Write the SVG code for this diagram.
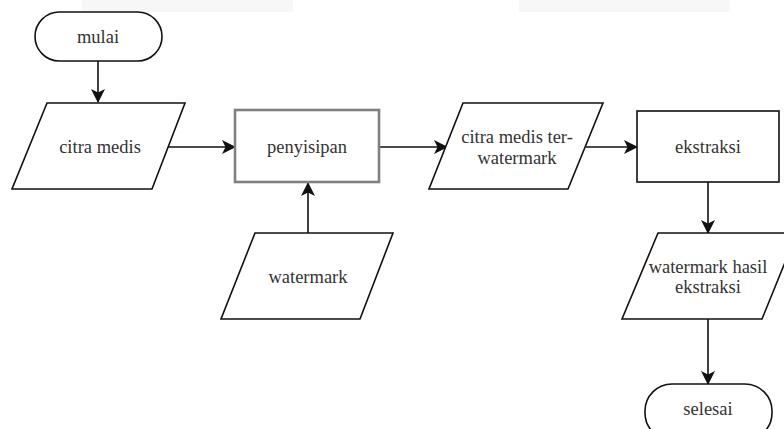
<svg xmlns="http://www.w3.org/2000/svg" width="784" height="429" viewBox="0 0 784 429">
<defs>
<style>
.s{fill:#fff;stroke:#111;stroke-width:1.6}
.g{fill:#fff;stroke:#808080;stroke-width:2.6}
text{font-family:'Liberation Serif','DejaVu Serif','Times New Roman',serif;font-size:18.5px;fill:#333;text-anchor:middle}
.c{fill:none;stroke:#111;stroke-width:1.6}
</style>
<marker id="ah" viewBox="0 0 14 14" refX="13" refY="7" markerWidth="14" markerHeight="14" markerUnits="userSpaceOnUse" orient="auto">
<path d="M0,0 L14,7 L0,14 L3.5,7 Z" fill="#111"/>
</marker>
</defs>
<rect width="784" height="429" fill="#fff"/>
<rect x="82" y="0" width="211" height="12" fill="#f7f7f7"/>
<rect x="519" y="0" width="211" height="12" fill="#f7f7f7"/>
<g id="connectors">
<path class="c" d="M98,61 V102" marker-end="url(#ah)"/>
<path class="c" d="M168,147 H235" marker-end="url(#ah)"/>
<path class="c" d="M379,147 H447" marker-end="url(#ah)"/>
<path class="c" d="M586,147 H637" marker-end="url(#ah)"/>
<path class="c" d="M308,233 V183" marker-end="url(#ah)"/>
<path class="c" d="M708,182 V233" marker-end="url(#ah)"/>
<path class="c" d="M708,319 V384" marker-end="url(#ah)"/>
</g>
<g id="mulai">
<rect class="s" x="35" y="12" width="127" height="49" rx="24.5"/>
<text x="98" y="43" font-family="Liberation Serif, serif">mulai</text>
</g>
<g id="citra-medis">
<polygon class="s" points="47,103 185,103 152,189 12,189"/>
<text x="100" y="153" font-family="Liberation Serif, serif">citra medis</text>
</g>
<g id="penyisipan">
<rect class="g" x="235" y="110" width="144" height="72"/>
<text x="307" y="153" font-family="Liberation Serif, serif">penyisipan</text>
</g>
<g id="watermark">
<polygon class="s" points="255,233 393,233 360,319 221,319"/>
<text x="308" y="283" font-family="Liberation Serif, serif">watermark</text>
</g>
<g id="citra-medis-ter-watermark">
<polygon class="s" points="463,103 603,103 568,189 429,189"/>
<text x="517" y="143" font-family="Liberation Serif, serif">citra medis ter-</text>
<text x="517" y="164" font-family="Liberation Serif, serif">watermark</text>
</g>
<g id="ekstraksi">
<rect class="s" x="637" y="111" width="142" height="71"/>
<text x="708" y="153" font-family="Liberation Serif, serif">ekstraksi</text>
</g>
<g id="watermark-hasil-ekstraksi">
<polygon class="s" points="658,233 797,233 762,319 622,319"/>
<text x="708" y="273" font-family="Liberation Serif, serif">watermark hasil</text>
<text x="708" y="293" font-family="Liberation Serif, serif">ekstraksi</text>
</g>
<g id="selesai">
<rect class="s" x="645" y="384" width="127" height="56" rx="27"/>
<text x="708" y="415" font-family="Liberation Serif, serif">selesai</text>
</g>
</svg>
